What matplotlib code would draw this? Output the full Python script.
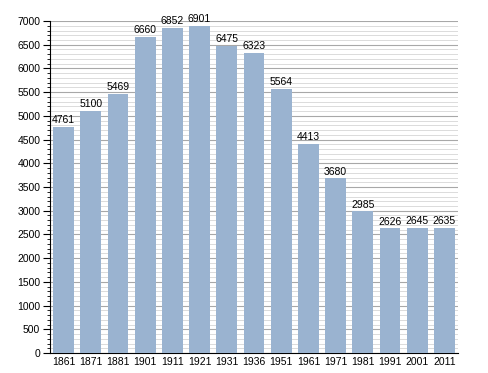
import matplotlib.pyplot as plt
from matplotlib.ticker import MultipleLocator

years = ["1861", "1871", "1881", "1901", "1911", "1921", "1931", "1936",
         "1951", "1961", "1971", "1981", "1991", "2001", "2011"]
population = [4761, 5100, 5469, 6660, 6852, 6901, 6475, 6323,
              5564, 4413, 3680, 2985, 2626, 2645, 2635]

plt.rcParams['font.family'] = ['Liberation Sans', 'DejaVu Sans']

fig = plt.figure(figsize=(4.88, 3.73), dpi=100)
ax = fig.add_axes([0.1025, 0.0536, 0.836, 0.89])

x = range(len(years))
ax.bar(x, population, width=0.77, color='#9ab3d0', zorder=3)
for xi, v in zip(x, population):
    ax.text(xi, v + 40, str(v), ha='center', va='bottom', fontsize=7.5, zorder=4)

ax.set_xlim(-0.5, len(years) - 0.5)
ax.set_ylim(0, 7000)
ax.set_xticks(list(x))
ax.set_xticklabels(years)
ax.yaxis.set_major_locator(MultipleLocator(500))
ax.yaxis.set_minor_locator(MultipleLocator(100))
ax.grid(axis='y', which='major', color='#a8a8a8', linewidth=0.8, zorder=1)
ax.grid(axis='y', which='minor', color='#d6d6d6', linewidth=0.6, zorder=1)
ax.tick_params(axis='y', which='major', length=5, labelsize=7.5, pad=2)
ax.tick_params(axis='y', which='minor', length=2.5)
ax.tick_params(axis='x', length=0, labelsize=7.5, pad=3)
ax.spines['top'].set_visible(False)
ax.spines['right'].set_visible(False)
ax.set_axisbelow(True)

fig.savefig('out.png', dpi=100)
